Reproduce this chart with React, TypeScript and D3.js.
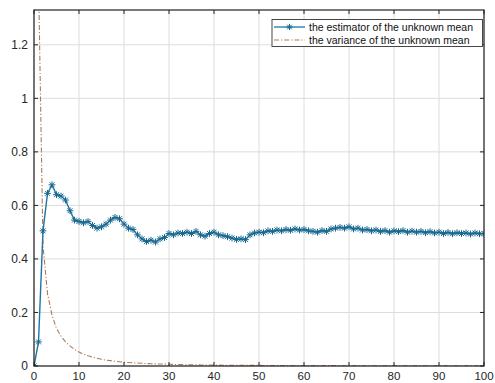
import React from "react";
import * as d3 from "d3";

const estimator: number[] = [
  0, 0.09, 0.505, 0.645, 0.677, 0.64, 0.635, 0.62, 0.58, 0.545,
  0.54, 0.535, 0.54, 0.525, 0.515, 0.52, 0.53, 0.545, 0.555, 0.55,
  0.53, 0.515, 0.51, 0.49, 0.475, 0.465, 0.47, 0.463, 0.475, 0.48,
  0.495, 0.49, 0.497, 0.495, 0.5, 0.495, 0.503, 0.49, 0.485, 0.495,
  0.5, 0.49, 0.487, 0.483, 0.478, 0.473, 0.475, 0.472, 0.49, 0.497,
  0.5, 0.498, 0.505, 0.503, 0.508, 0.505, 0.51, 0.507, 0.512, 0.508,
  0.51, 0.505, 0.503, 0.5, 0.506, 0.503, 0.512, 0.515, 0.518, 0.515,
  0.52, 0.512, 0.515, 0.508, 0.51, 0.505, 0.508, 0.503, 0.506, 0.5,
  0.505, 0.502, 0.506, 0.5, 0.504, 0.5, 0.503, 0.498, 0.502, 0.497,
  0.5, 0.495, 0.499, 0.494, 0.498, 0.495, 0.497, 0.493, 0.497, 0.494,
  0.495,
];

const variance: number[] = [
  10, 1.45, 0.45, 0.27, 0.19, 0.14, 0.112, 0.09, 0.075, 0.062,
  0.052, 0.044, 0.038, 0.033, 0.029, 0.025, 0.022, 0.02, 0.018, 0.016,
  0.014, 0.013, 0.012, 0.011, 0.01, 0.009, 0.0085, 0.008, 0.0075, 0.007,
  0.0065, 0.006, 0.0055, 0.005, 0.0048, 0.0045, 0.0042, 0.004, 0.0038, 0.0036,
  0.0034, 0.0032, 0.003, 0.0029, 0.0028, 0.0027, 0.0026, 0.0025, 0.0024, 0.0023,
  0.0022, 0.0021, 0.002, 0.002, 0.0019, 0.0018, 0.0018, 0.0017, 0.0017, 0.0016,
  0.0016, 0.0015, 0.0015, 0.0014, 0.0014, 0.0014, 0.0013, 0.0013, 0.0013, 0.0012,
  0.0012, 0.0012, 0.0011, 0.0011, 0.0011, 0.0011, 0.001, 0.001, 0.001, 0.001,
  0.001, 0.0009, 0.0009, 0.0009, 0.0009, 0.0009, 0.0009, 0.0008, 0.0008, 0.0008,
  0.0008, 0.0008, 0.0008, 0.0008, 0.0007, 0.0007, 0.0007, 0.0007, 0.0007, 0.0007,
  0.0007,
];

const xTicks: number[] = [0, 10, 20, 30, 40, 50, 60, 70, 80, 90, 100];
const yTicks: number[] = [0, 0.2, 0.4, 0.6, 0.8, 1, 1.2];
const yTickLabels: string[] = ["0", "0.2", "0.4", "0.6", "0.8", "1", "1.2"];
const legendLabels: string[] = [
  "the estimator of the unknown mean",
  "the variance of the unknown mean",
];

const W = 495;
const H = 383;
const L = 34;
const R = 484;
const T = 10;
const B = 366;

const estColor = "#1d74a6";
const markColor = "#17688f";
const varColor = "#b07a5a";

function asterisk(cx: number, cy: number, r: number): string {
  const d = r * 0.72;
  return `M${cx - r},${cy}L${cx + r},${cy}M${cx},${cy - r}L${cx},${cy + r}` +
    `M${cx - d},${cy - d}L${cx + d},${cy + d}M${cx - d},${cy + d}L${cx + d},${cy - d}`;
}

export default function App() {
  const x = d3.scaleLinear().domain([0, 100]).range([L, R]);
  const y = d3.scaleLinear().domain([0, 1.33]).range([B, T]);
  const idx = estimator.map((_, i) => i);

  const estLine = d3
    .line<number>()
    .x((i) => x(i))
    .y((i) => y(estimator[i]))(idx) as string;
  const varLine = d3
    .line<number>()
    .x((i) => x(i))
    .y((i) => y(variance[i]))(idx) as string;

  const font = "'Liberation Sans', Arial, Helvetica, sans-serif";

  return (
    <svg
      width={W}
      height={H}
      style={{ position: "absolute", left: 0, top: 0, background: "#fff" }}
      fontFamily={font}
    >
      <defs>
        <clipPath id="plotclip">
          <rect x={L} y={T} width={R - L} height={B - T} />
        </clipPath>
      </defs>
      <rect x={0} y={0} width={W} height={H} fill="#fff" />
      {xTicks.map((t) => (
        <line key={"gx" + t} x1={x(t)} x2={x(t)} y1={T} y2={B} stroke="#dcdcdc" strokeWidth={1} />
      ))}
      {yTicks.map((t) => (
        <line key={"gy" + t} x1={L} x2={R} y1={y(t)} y2={y(t)} stroke="#dcdcdc" strokeWidth={1} />
      ))}
      <g clipPath="url(#plotclip)">
        <path d={varLine} fill="none" stroke={varColor} strokeWidth={1.1} strokeDasharray="5,2,1.2,2" />
        <path d={estLine} fill="none" stroke={estColor} strokeWidth={1.4} />
        {idx.map((i) => (
          <path key={"m" + i} d={asterisk(x(i), y(estimator[i]), 3.4)} stroke={markColor} strokeWidth={1} fill="none" />
        ))}
      </g>
      <rect x={L} y={T} width={R - L} height={B - T} fill="none" stroke="#222" strokeWidth={1.2} />
      {xTicks.map((t) => (
        <g key={"tx" + t}>
          <line x1={x(t)} x2={x(t)} y1={B} y2={B - 4} stroke="#222" />
          <line x1={x(t)} x2={x(t)} y1={T} y2={T + 4} stroke="#222" />
          <text x={x(t)} y={379.5} textAnchor="middle" fontSize={11.5} fill="#262626">
            {t}
          </text>
        </g>
      ))}
      {yTicks.map((t, i) => (
        <g key={"ty" + t}>
          <line x1={L} x2={L + 4} y1={y(t)} y2={y(t)} stroke="#222" />
          <line x1={R} x2={R - 4} y1={y(t)} y2={y(t)} stroke="#222" />
          <text x={28} y={y(t) + 4.2} textAnchor="end" fontSize={12} fill="#262626">
            {yTickLabels[i]}
          </text>
        </g>
      ))}
      <g>
        <rect x={272} y={19.5} width={210.5} height={27} fill="#fff" stroke="#333" strokeWidth={0.9} />
        <line x1={274} x2={305} y1={27} y2={27} stroke={estColor} strokeWidth={1.3} />
        <path d={asterisk(289.5, 27, 3.2)} stroke={markColor} strokeWidth={1} fill="none" />
        <text x={309} y={30.5} fontSize={10.5} fill="#111">
          {legendLabels[0]}
        </text>
        <line x1={274} x2={305} y1={40} y2={40} stroke={varColor} strokeWidth={1.1} strokeDasharray="5,2,1.2,2" />
        <text x={309} y={43.5} fontSize={10.5} fill="#111">
          {legendLabels[1]}
        </text>
      </g>
    </svg>
  );
}
